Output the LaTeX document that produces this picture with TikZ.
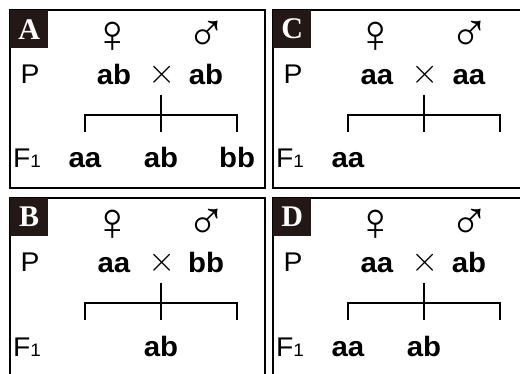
\documentclass[tikz,border=0pt]{standalone}
\usepackage{fontspec}
\setmainfont[FakeStretch=1.05]{Liberation Sans}
\newfontfamily\symfont{Liberation Sans}
\newfontfamily\tagfont{Liberation Serif}
\newfontfamily\crossfont{lmroman10-regular.otf}
\definecolor{tagbg}{HTML}{231815}
\tikzset{
  frame/.style={line width=2pt},
  bracket/.style={line width=2pt},
  tagbox/.style={fill=tagbg, text=white, minimum size=38pt, inner sep=0pt, anchor=north west,
    font=\tagfont\bfseries\fontsize{30}{30}\selectfont},
  sexsym/.style={font=\symfont\fontsize{54}{54}\selectfont, inner sep=0pt},
  gen/.style={font=\fontsize{27}{27}\selectfont, anchor=base, inner sep=0pt},
  geno/.style={font=\bfseries\fontsize{28}{28}\selectfont, anchor=base, inner sep=0pt},
  cross/.style={font=\crossfont\fontsize{35}{35}\selectfont, inner sep=0pt},
}
\begin{document}
\begin{tikzpicture}[x=1pt, y=-1pt]
\useasboundingbox (0,0) rectangle (520,374);
% panel A
\draw[frame] (10,10) rectangle (264.5,188);
\node[tagbox] (tagA) at (10,10) {A};
\node[sexsym] (femA) at (113,37) {♀};
\node[sexsym] (malA) at (207,36) {♂};
\node[gen] (pA) at (30,84) {P};
\node[geno] (p1A) at (114,85) {ab};
\node[cross] (xA) at (162,75) {×};
\node[geno] (p2A) at (206,85) {ab};
\coordinate (topA) at (161,95);
\coordinate (botA) at (161,132);
\coordinate (lA) at (85,115);
\coordinate (lbA) at (85,132);
\coordinate (rA) at (237,115);
\coordinate (rbA) at (237,132);
\draw[bracket] (lbA) -- (lA) -- (rA) -- (rbA);
\draw[bracket] (topA) -- (botA);
\node[gen] (fA) at (27,168) {F{\fontsize{18}{18}\selectfont 1}};
\node[geno] (c1A) at (85,168) {aa};
\node[geno] (c2A) at (161,168) {ab};
\node[geno] (c3A) at (237,168) {bb};
% panel C
\begin{scope}[shift={(263,0)}]
\draw[frame] (257,10) -- (10,10) -- (10,188) -- (257,188);
\node[tagbox] (tagC) at (10,10) {C};
\node[sexsym] (femC) at (113,37) {♀};
\node[sexsym] (malC) at (207,36) {♂};
\node[gen] (pC) at (30,84) {P};
\node[geno] (p1C) at (114,85) {aa};
\node[cross] (xC) at (162,75) {×};
\node[geno] (p2C) at (206,85) {aa};
\coordinate (topC) at (161,95);
\coordinate (botC) at (161,132);
\coordinate (lC) at (85,115);
\coordinate (lbC) at (85,132);
\coordinate (rC) at (237,115);
\coordinate (rbC) at (237,132);
\draw[bracket] (lbC) -- (lC) -- (rC) -- (rbC);
\draw[bracket] (topC) -- (botC);
\node[gen] (fC) at (27,168) {F{\fontsize{18}{18}\selectfont 1}};
\node[geno] (c1C) at (85,168) {aa};
\end{scope}
% panel B
\begin{scope}[shift={(0,188)}]
\draw[frame] (10,190) -- (10,10) -- (264.5,10) -- (264.5,190);
\node[tagbox] (tagB) at (10,10) {B};
\node[sexsym] (femB) at (113,37) {♀};
\node[sexsym] (malB) at (207,36) {♂};
\node[gen] (pB) at (30,84) {P};
\node[geno] (p1B) at (114,85) {aa};
\node[cross] (xB) at (162,75) {×};
\node[geno] (p2B) at (206,85) {bb};
\coordinate (topB) at (161,95);
\coordinate (botB) at (161,132);
\coordinate (lB) at (85,115);
\coordinate (lbB) at (85,132);
\coordinate (rB) at (237,115);
\coordinate (rbB) at (237,132);
\draw[bracket] (lbB) -- (lB) -- (rB) -- (rbB);
\draw[bracket] (topB) -- (botB);
\node[gen] (fB) at (27,168) {F{\fontsize{18}{18}\selectfont 1}};
\node[geno] (c1B) at (161,168) {ab};
\end{scope}
% panel D
\begin{scope}[shift={(263,188)}]
\draw[frame] (10,190) -- (10,10) -- (257,10);
\node[tagbox] (tagD) at (10,10) {D};
\node[sexsym] (femD) at (113,37) {♀};
\node[sexsym] (malD) at (207,36) {♂};
\node[gen] (pD) at (30,84) {P};
\node[geno] (p1D) at (114,85) {aa};
\node[cross] (xD) at (162,75) {×};
\node[geno] (p2D) at (206,85) {ab};
\coordinate (topD) at (161,95);
\coordinate (botD) at (161,132);
\coordinate (lD) at (85,115);
\coordinate (lbD) at (85,132);
\coordinate (rD) at (237,115);
\coordinate (rbD) at (237,132);
\draw[bracket] (lbD) -- (lD) -- (rD) -- (rbD);
\draw[bracket] (topD) -- (botD);
\node[gen] (fD) at (27,168) {F{\fontsize{18}{18}\selectfont 1}};
\node[geno] (c1D) at (85,168) {aa};
\node[geno] (c2D) at (161,168) {ab};
\end{scope}
\end{tikzpicture}
\end{document}
